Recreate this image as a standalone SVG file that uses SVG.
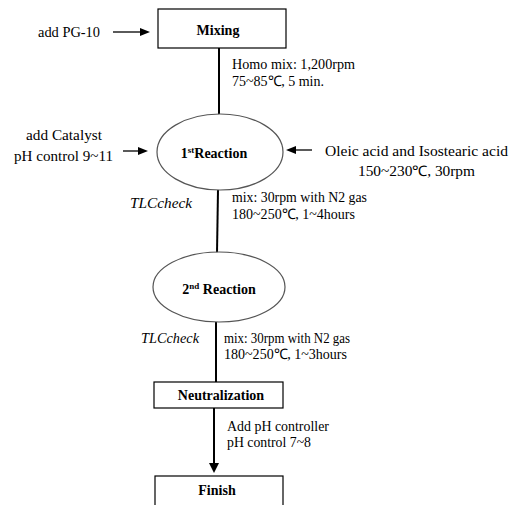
<svg xmlns="http://www.w3.org/2000/svg" width="512" height="505" viewBox="0 0 512 505" style="font-family:'Liberation Serif',serif">
<defs>
<style>
.box{fill:#fff;stroke:#000;stroke-width:1.2}
.ell{fill:#fff;stroke:#555;stroke-width:1.2}
.ln{stroke:#000;stroke-width:2;fill:none}
.ar{stroke:#000;stroke-width:1.3;fill:none}
</style>
</defs>
<rect width="512" height="505" fill="#fff"/>
<g id="connectors">
<line class="ln" x1="219" y1="48" x2="219" y2="116"/>
<line class="ln" x1="218" y1="190" x2="217" y2="253"/>
<line class="ln" x1="216" y1="322" x2="216" y2="382"/>
<line class="ln" x1="214" y1="408" x2="214" y2="464"/>
<path d="M209,463 L219,463 L214,473 z" fill="#000"/>
<line class="ar" x1="113" y1="32" x2="142" y2="32"/>
<path d="M140,28 L150,32 L140,36 z" fill="#000"/>
<line class="ar" x1="123" y1="151" x2="140" y2="151"/>
<path d="M138,147 L148,151 L138,155 z" fill="#000"/>
<line class="ar" x1="312" y1="150" x2="294" y2="150"/>
<path d="M296,146 L286,150 L296,154 z" fill="#000"/>
</g>
<g id="mixing">
<rect class="box" x="158" y="9" width="128" height="39"/>
<text style="font-family:'Liberation Serif',serif;font-size:14px;font-weight:bold" x="218" y="35" text-anchor="middle">Mixing</text>
</g>
<g id="reaction1">
<ellipse class="ell" cx="220" cy="152" rx="63" ry="38"/>
<text style="font-family:'Liberation Serif',serif;font-size:14px;font-weight:bold" x="214" y="158" text-anchor="middle">1<tspan font-size="9" dy="-5">st</tspan><tspan dy="5">Reaction</tspan></text>
</g>
<g id="reaction2">
<ellipse class="ell" cx="219" cy="287" rx="66" ry="35"/>
<text style="font-family:'Liberation Serif',serif;font-size:14px;font-weight:bold" x="219" y="294" text-anchor="middle">2<tspan font-size="9" dy="-5">nd</tspan><tspan dy="5"> Reaction</tspan></text>
</g>
<g id="neutralization">
<rect class="box" x="154" y="382" width="129" height="26"/>
<text style="font-family:'Liberation Serif',serif;font-size:14px;font-weight:bold" x="221" y="400" text-anchor="middle">Neutralization</text>
</g>
<g id="finish">
<rect class="box" x="155" y="476" width="128" height="40"/>
<text style="font-family:'Liberation Serif',serif;font-size:14px;font-weight:bold" x="217" y="495" text-anchor="middle">Finish</text>
</g>
<g id="labels">
<text style="font-family:'Liberation Serif',serif;font-size:14.5px" x="38" y="37" textLength="62" lengthAdjust="spacingAndGlyphs">add PG-10</text>
<text style="font-family:'Liberation Serif',serif;font-size:14.5px" x="232" y="69" textLength="123" lengthAdjust="spacingAndGlyphs">Homo mix: 1,200rpm</text>
<text style="font-family:'Liberation Serif',serif;font-size:14.5px" x="232" y="86" textLength="92" lengthAdjust="spacingAndGlyphs">75~85℃, 5 min.</text>
<text style="font-family:'Liberation Serif',serif;font-size:14.5px" x="26" y="140" textLength="76" lengthAdjust="spacingAndGlyphs">add Catalyst</text>
<text style="font-family:'Liberation Serif',serif;font-size:14.5px" x="14" y="161" textLength="99" lengthAdjust="spacingAndGlyphs">pH  control 9~11</text>
<text style="font-family:'Liberation Serif',serif;font-size:14.5px" x="325" y="156" textLength="183" lengthAdjust="spacingAndGlyphs">Oleic  acid and Isostearic acid</text>
<text style="font-family:'Liberation Serif',serif;font-size:14.5px" x="358" y="176" textLength="117" lengthAdjust="spacingAndGlyphs">150~230℃,   30rpm</text>
<text style="font-family:'Liberation Serif',serif;font-size:14.5px;font-style:italic" x="130" y="208" textLength="62" lengthAdjust="spacingAndGlyphs">TLCcheck</text>
<text style="font-family:'Liberation Serif',serif;font-size:14.5px" x="232" y="202" textLength="135" lengthAdjust="spacingAndGlyphs">mix:  30rpm with N2 gas</text>
<text style="font-family:'Liberation Serif',serif;font-size:14.5px" x="232" y="219" textLength="123" lengthAdjust="spacingAndGlyphs">180~250℃, 1~4hours</text>
<text style="font-family:'Liberation Serif',serif;font-size:14.5px;font-style:italic" x="141" y="343" textLength="58" lengthAdjust="spacingAndGlyphs">TLCcheck</text>
<text style="font-family:'Liberation Serif',serif;font-size:14.5px" x="224" y="343" textLength="126" lengthAdjust="spacingAndGlyphs">mix:  30rpm with N2 gas</text>
<text style="font-family:'Liberation Serif',serif;font-size:14.5px" x="224" y="359" textLength="123" lengthAdjust="spacingAndGlyphs">180~250℃, 1~3hours</text>
<text style="font-family:'Liberation Serif',serif;font-size:14.5px" x="227" y="431" textLength="102" lengthAdjust="spacingAndGlyphs">Add pH controller</text>
<text style="font-family:'Liberation Serif',serif;font-size:14.5px" x="227" y="447" textLength="84" lengthAdjust="spacingAndGlyphs">pH control 7~8</text>
</g>
</svg>
